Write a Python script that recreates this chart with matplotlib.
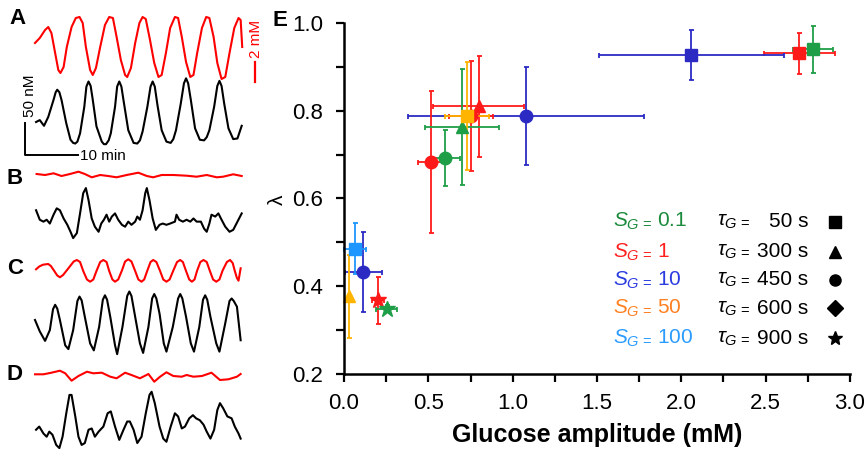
import numpy as np
import matplotlib
matplotlib.use("Agg")
import matplotlib.pyplot as plt
from matplotlib.ticker import MultipleLocator

plt.rcParams['font.family'] = ['Liberation Sans', 'DejaVu Sans']
plt.rcParams['mathtext.fontset'] = 'custom'
plt.rcParams['mathtext.rm'] = 'Liberation Sans'
plt.rcParams['mathtext.it'] = 'Liberation Sans:italic'
plt.rcParams['mathtext.bf'] = 'Liberation Sans:bold'

# ============================================
#  TRACES (A-D): time in min, glucose in mM (red), insulin in nM (black)
# ============================================
a_red_t = [0.0, 0.9, 1.9, 2.5, 3.1, 3.8, 4.4, 4.8, 5.4, 6.0, 6.9, 7.7, 8.4, 9.0, 9.6, 10.4,
           10.9, 11.5, 12.3, 13.2, 14.0, 14.7, 15.4, 16.2, 17.0, 17.4, 18.1, 18.9, 19.7,
           20.3, 20.9, 21.7, 22.5, 23.3, 23.9, 24.7, 25.5, 26.4, 27.0, 27.7, 28.5, 29.3,
           29.9, 30.6, 31.5, 32.3, 32.9, 33.7, 34.4, 35.2, 35.9, 36.7, 37.6, 38.4, 38.8, 39.1]
a_red_v = [3.7, 4.2, 5.0, 5.3, 4.7, 2.7, 1.0, 0.7, 1.3, 3.3, 5.3, 6.2, 6.3, 5.7, 3.3, 1.0,
           0.5, 1.2, 3.3, 5.5, 6.3, 6.2, 4.3, 2.0, 0.5, 0.3, 1.2, 3.7, 5.7,
           6.3, 6.1, 4.0, 1.7, 0.3, 0.5, 2.7, 5.2, 6.3, 6.2, 4.3, 1.8, 0.3,
           0.5, 2.7, 5.2, 6.3, 6.2, 4.3, 1.7, 0.1, 0.3, 2.7, 5.2, 6.2, 6.0, 3.3]

a_blk_t = [0.2, 0.9, 1.7, 2.5, 3.5, 3.9, 4.2, 4.6, 5.0, 5.9, 6.7, 7.2, 7.6, 8.0, 8.5, 9.3,
           9.7, 10.1, 10.5, 10.9, 11.6, 12.6, 13.0, 13.4, 13.9, 14.3, 15.1, 15.5, 15.9,
           16.3, 16.8, 17.6, 18.6, 19.3, 19.8, 20.3, 21.2, 21.8, 22.2, 22.6, 23.1, 23.9,
           24.8, 25.6, 26.1, 26.6, 27.5, 28.1, 28.5, 28.9, 29.4, 30.2, 31.1, 31.9, 32.4,
           32.9, 33.8, 34.4, 34.8, 35.2, 35.7, 36.5, 37.4, 38.2, 39.0]
a_blk_v = [39, 42, 33, 47, 74, 86, 90, 86, 74, 37, 11, 6, 5, 8, 21, 63,
           95, 103, 96, 74, 32, 8, 4, 4, 10, 21, 63, 95, 103,
           95, 68, 26, 6, 5, 10, 24, 63, 95, 103, 95, 66, 26,
           8, 6, 12, 26, 68, 100, 108, 100, 74, 29, 11, 10, 15,
           26, 63, 96, 104, 96, 68, 29, 12, 13, 33]

b_red_t = [0.3, 1.9, 3.5, 5.0, 6.6, 8.2, 9.4, 10.7, 12.3, 13.8, 15.4, 17.3, 19.5, 21.1,
           22.3, 23.9, 26.1, 28.6, 30.5, 32.4, 34.3, 35.5, 37.4, 39.0]
b_red_v = [0.60, 0.50, 0.67, 0.40, 0.60, 0.83, 0.60, 0.27, 0.50, 0.40, 0.27, 0.50, 0.73, 0.40,
           0.27, 0.50, 0.50, 0.43, 0.33, 0.50, 0.27, 0.33, 0.57, 0.40]

b_blk_t = [0.2, 0.9, 1.6, 2.2, 2.8, 3.5, 4.1, 4.7, 5.4, 6.1, 6.7, 7.2, 7.9, 8.5, 9.1, 9.6,
           10.1, 10.7, 11.3, 12.0, 12.5, 13.0, 13.5, 14.0, 14.5, 15.1, 15.7, 16.4, 17.0,
           17.6, 18.2, 18.9, 19.3, 19.8, 20.3, 20.8, 21.1, 21.6, 22.2, 22.8, 23.5, 24.1,
           24.8, 25.5, 26.4, 26.7, 27.2, 27.9, 28.6, 29.3, 29.9, 30.5, 31.3, 31.9, 32.4,
           32.9, 33.3, 34.0, 34.6, 35.2, 35.9, 36.7, 37.4, 38.2, 39.0]
b_blk_v = [47, 32, 29, 32, 26, 40, 50, 47, 34, 24, 13, 3, 11, 42, 74, 82,
           63, 34, 21, 13, 26, 32, 40, 29, 37, 42, 32, 24, 21,
           29, 24, 29, 37, 32, 47, 74, 82, 63, 34, 16, 24, 26,
           24, 26, 29, 40, 32, 29, 32, 29, 34, 29, 29, 18, 13,
           26, 40, 37, 42, 32, 21, 13, 16, 29, 42]

c_red_t = [0.2, 0.8, 1.5, 2.5, 3.0, 3.6, 4.2, 4.7, 5.3, 6.3, 7.3, 7.9, 8.5, 9.1, 9.8, 10.4,
           11.0, 11.6, 12.3, 12.9, 13.5, 14.0, 14.6, 15.1, 15.7, 16.4, 17.0, 17.6, 18.2,
           18.9, 19.5, 20.1, 20.6, 21.2, 21.8, 22.3, 22.9, 23.6, 24.2, 24.8, 25.4, 26.1,
           26.8, 27.4, 27.9, 28.5, 29.1, 29.6, 30.1, 30.6, 31.2, 31.8, 32.4, 33.0, 33.6,
           34.2, 34.8, 35.4, 36.2, 36.8, 37.3, 37.7, 38.1, 38.4, 38.8]
c_red_v = [1.57, 1.85, 2.03, 2.10, 1.90, 1.43, 0.95, 0.77, 1.00, 1.67, 2.35, 2.50, 2.30, 1.40,
           0.55, 0.33, 0.55, 1.40, 2.30, 2.50, 2.30, 1.40, 0.55, 0.33, 0.55, 1.45, 2.35,
           2.57, 2.35, 1.40, 0.55, 0.33, 0.55, 1.45, 2.30, 2.50, 2.30, 1.40, 0.55, 0.33,
           0.55, 1.45, 2.30, 2.50, 2.30, 1.40, 0.55, 0.33, 0.55, 1.45, 2.30, 2.50, 2.30,
           1.40, 0.55, 0.33, 0.55, 1.45, 2.30, 2.50, 2.20, 1.40, 0.70, 0.43, 1.67]

c_blk_t = [0.0, 0.9, 1.9, 2.8, 3.4, 3.8, 4.2, 4.7, 5.7, 6.3, 7.2, 8.0, 8.4, 8.8, 9.4, 10.4,
           11.1, 12.1, 12.8, 13.2, 13.6, 14.2, 15.1, 15.5, 16.5, 17.4, 17.8, 18.2, 18.9,
           19.8, 20.4, 21.4, 22.1, 22.5, 22.9, 23.5, 24.3, 24.8, 26.0, 27.0, 27.4, 27.8,
           28.5, 29.4, 30.0, 31.0, 31.7, 32.1, 32.5, 33.1, 34.2, 34.8, 35.9, 36.7, 37.1,
           37.5, 38.1, 38.8]
c_blk_v = [58, 40, 25, 42, 75, 82, 76, 58, 18, 12, 42, 88, 95, 89, 63, 21,
           10, 47, 90, 97, 90, 63, 18, 4, 47, 96, 103, 96, 63,
           21, 6, 47, 92, 99, 92, 68, 21, 8, 47, 92, 99, 92,
           63, 21, 8, 47, 90, 97, 90, 63, 21, 8, 53, 88, 92,
           88, 79, 26]

d_red_t = [0.0, 1.6, 3.1, 4.7, 5.7, 6.9, 8.2, 9.8, 11.0, 12.6, 14.2, 15.4, 17.0, 18.2,
           19.8, 21.4, 22.5, 23.6, 24.8, 26.1, 27.7, 28.6, 29.9, 31.5, 33.3, 34.9, 36.5,
           38.1, 38.8]
d_red_v = [1.07, 1.07, 1.23, 1.43, 1.17, 0.43, 0.90, 1.33, 1.17, 1.23, 0.83, 0.67, 1.23, 1.00,
           0.67, 1.10, 0.33, 0.83, 1.27, 0.90, 0.83, 1.00, 0.83, 0.90, 1.23, 0.50, 0.57,
           0.83, 1.10]

d_blk_t = [0.2, 0.8, 1.6, 2.2, 2.7, 3.3, 4.0, 4.6, 5.2, 5.9, 6.5, 6.9, 7.6, 8.2, 8.8, 9.4,
           10.1, 10.7, 11.3, 12.0, 12.9, 13.7, 14.3, 15.1, 15.9, 16.7, 17.4, 17.9, 18.6,
           19.3, 20.1, 20.9, 21.6, 22.0, 22.6, 23.5, 24.2, 24.8, 25.6, 26.4, 27.0, 27.7,
           28.3, 29.1, 29.8, 30.4, 31.1, 31.8, 32.4, 33.1, 33.8, 34.4, 34.9, 35.5, 36.3,
           37.1, 37.7, 38.4, 38.8]
d_blk_v = [32, 37, 26, 21, 29, 24, 8, 3, 21, 58, 87, 87, 53, 21, 8, 11,
           32, 34, 21, 29, 37, 58, 61, 37, 16, 32, 45, 45, 32,
           11, 21, 58, 87, 92, 74, 37, 18, 13, 37, 58, 53, 34,
           37, 50, 55, 50, 47, 40, 29, 18, 32, 63, 74, 66, 53,
           50, 37, 26, 18]

# ============================================
#  PANEL E: lambda vs glucose amplitude
#  marker = tau_G, colour = S_G
# ============================================
square_sg = [0.1, 1, 10, 50, 100]
square_x = [2.78, 2.70, 2.06, 0.73, 0.065]
square_y = [0.940, 0.931, 0.927, 0.788, 0.486]
square_xerr = [0.12, 0.21, 0.55, 0.13, 0.065]
square_yerr = [0.053, 0.047, 0.057, 0.124, 0.059]

triangle_sg = [1, 0.1, 50]
triangle_x = [0.80, 0.70, 0.032]
triangle_y = [0.810, 0.763, 0.377]
triangle_xerr = [0.27, 0.22, 0.01]
triangle_yerr = [0.115, 0.132, 0.094]

circle_sg = [10, 1, 0.1, 10, 1]
circle_x = [1.08, 0.518, 0.60, 0.115, 0.755]
circle_y = [0.788, 0.683, 0.692, 0.432, 0.788]
circle_xerr = [0.70, 0.08, 0.09, 0.11, 0.13]
circle_yerr = [0.111, 0.161, 0.063, 0.091, 0.125]

star_sg = [1, 0.1]
star_x = [0.20, 0.254]
star_y = [0.368, 0.349]
star_xerr = [0.035, 0.063]
star_yerr = [0.054, 0.008]

legend_sg = [0.1, 1, 10, 50, 100]
legend_tau = [50, 300, 450, 600, 900]
legend_markers = ['s', '^', 'o', 'D', '*']

sg_colors = {0.1: '#1f9e48', 1: '#ff1a1a', 10: '#2b2bc4', 50: '#ffb400', 100: '#1e96ff'}
sg_text_colors = {0.1: '#1b8a3c', 1: '#ff2020', 10: '#2a3ce0', 50: '#ff8020', 100: '#2a9bff'}

# ============================================
#  FIGURE
# ============================================
W, H = 868, 449
fig = plt.figure(figsize=(W / 100, H / 100), dpi=100)

def fx(px):
    return px / W

def fy(py):
    return 1 - py / H

MIN_PX = 5.3     # px per minute
MM_PX = 10.0     # px per mM
NM_PX = 0.633    # px per nM
X0 = 35          # left edge of traces (px)

def trace_axes(base, height, px_per_unit):
    a = fig.add_axes([fx(X0), fy(base), fx(212), height / H])
    a.set_xlim(0, 212 / MIN_PX)
    a.set_ylim(0, height / px_per_unit)
    a.axis('off')
    a.patch.set_visible(False)
    return a

traces = [
    (a_red_t, a_red_v, 80, 70, MM_PX, 'red'),
    (a_blk_t, a_blk_v, 146.7, 72, NM_PX, 'black'),
    (b_red_t, b_red_v, 180, 15, MM_PX, 'red'),
    (b_blk_t, b_blk_v, 240, 55, NM_PX, 'black'),
    (c_red_t, c_red_v, 285, 30, MM_PX, 'red'),
    (c_blk_t, c_blk_v, 356.7, 67, NM_PX, 'black'),
    (d_red_t, d_red_v, 385, 20, MM_PX, 'red'),
    (d_blk_t, d_blk_v, 450, 60, NM_PX, 'black'),
]
for t, v, base, hgt, scale, col in traces:
    ta = trace_axes(base, hgt, scale)
    ta.plot(t, v, color=col, lw=1.5, clip_on=False, solid_joinstyle='round')

# background axes in pixel coordinates for scale bars and panel letters
bg = fig.add_axes([0, 0, 1, 1])
bg.set_xlim(0, W)
bg.set_ylim(H, 0)
bg.axis('off')
bg.patch.set_visible(False)

# scale bars
bg.plot([25, 25, 25 + 10 * MIN_PX], [155 - 50 * NM_PX, 155, 155], color='black', lw=1.4)
bg.text(80, 156, '10 min', fontsize=11, va='center', ha='left')
bg.text(30, 117, '50 nM', fontsize=11, rotation=90, va='bottom', ha='center')
bg.plot([255, 255], [82, 82 - 2 * MM_PX], color='red', lw=1.6)
bg.text(256, 58, '2 mM', fontsize=11, rotation=90, va='bottom', ha='center', color='red')

for lab, (px, py) in zip(['A', 'B', 'C', 'D', 'E'],
                         [(17, 19), (15, 178), (15, 268), (15, 375), (280, 20)]):
    bg.text(px, py, lab, fontsize=16, fontweight='bold', ha='center', va='center')

# ============================================
#  MAIN SCATTER
# ============================================
ax = fig.add_axes([fx(344), fy(374), fx(506), 351 / H])

groups = [
    (circle_x, circle_y, circle_xerr, circle_yerr, circle_sg, 'o', 9),
    (triangle_x, triangle_y, triangle_xerr, triangle_yerr, triangle_sg, '^', 9),
    (star_x, star_y, star_xerr, star_yerr, star_sg, '*', 12),
    (square_x, square_y, square_xerr, square_yerr, square_sg, 's', 9),
]
for xs, ys, xe, ye, sgs, m, ms in groups:
    for x, y, ex, ey, sg in zip(xs, ys, xe, ye, sgs):
        c = sg_colors[sg]
        ax.errorbar(x, y, xerr=ex, yerr=ey, fmt=m, color=c, ms=ms, mec=c,
                    elinewidth=1.3, capsize=1.8, capthick=1.3, clip_on=False)

ax.set_xlim(0, 3.0)
ax.set_ylim(0.2, 1.0)
ax.xaxis.set_major_locator(MultipleLocator(0.5))
ax.xaxis.set_minor_locator(MultipleLocator(0.25))
ax.yaxis.set_major_locator(MultipleLocator(0.2))
ax.yaxis.set_minor_locator(MultipleLocator(0.1))
for s in ['top', 'right']:
    ax.spines[s].set_visible(False)
for s in ['left', 'bottom']:
    ax.spines[s].set_linewidth(1.8)
ax.tick_params(which='both', direction='out', length=6, width=1.6, labelsize=16)
ax.tick_params(axis='x', pad=8)
ax.tick_params(axis='y', pad=9)
ax.set_xlabel('Glucose amplitude (mM)', fontsize=18, fontweight='bold', labelpad=6)
fig.text(fx(277), fy(200), 'λ', fontsize=15, rotation=90, ha='center', va='center')

# legend drawn as text rows
row_y = [0.434, 0.348, 0.268, 0.187, 0.102]
for sg, tau, m, yy in zip(legend_sg, legend_tau, legend_markers, row_y):
    ax.text(0.532, yy, r'$S_{G\,=}\,$' + f'{sg:g}', transform=ax.transAxes,
            fontsize=15, color=sg_text_colors[sg], va='center', ha='left')
    ax.text(0.737, yy, r'$\tau_{G\,=}$', transform=ax.transAxes,
            fontsize=15, va='center', ha='left')
    ax.text(0.917, yy, f'{tau} s', transform=ax.transAxes,
            fontsize=15, va='center', ha='right')
    ax.plot([0.970], [yy], marker=m, color='black', ms=8 if m != '*' else 10,
            transform=ax.transAxes, clip_on=False, linestyle='none')

fig.savefig('out.png', dpi=100)
